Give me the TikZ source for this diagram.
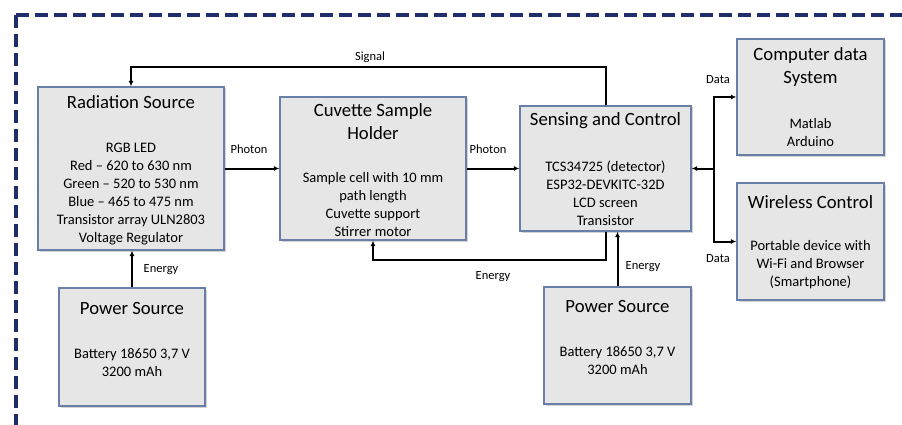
\documentclass[tikz,border=0pt]{standalone}
\usepackage{fontspec}
\setmainfont{Carlito}
\usepackage{tikz}
\usetikzlibrary{positioning,arrows.meta,shadows}

\definecolor{frameblue}{HTML}{1F2D6B}
\definecolor{boxedge}{HTML}{6A7FA8}
\definecolor{boxfill}{HTML}{E7E6E6}

\begin{document}
\begin{tikzpicture}[x=1pt, y=-1pt,
  blk/.style={draw=boxedge, fill=boxfill, line width=1.2pt, inner sep=0pt,
    drop shadow={shadow xshift=1.5pt, shadow yshift=-1.5pt, opacity=0.35}},
  ttl/.style={align=center, inner sep=0pt, font=\fontsize{18.7}{23}\selectfont},
  txt/.style={align=center, inner sep=0pt, font=\fontsize{14.5}{18}\selectfont},
  lbl/.style={inner sep=0pt, font=\fontsize{12.5}{14}\selectfont},
  wire/.style={line width=2pt, -{Latex[length=5.5pt,width=5pt]}}]
  \useasboundingbox (0,0) rectangle (902,425);
  % dashed frame
  \draw[frameblue, line width=4.5pt, dash pattern=on 13pt off 6pt] (16,15) -- (902,15);
  \draw[frameblue, line width=4.5pt, dash pattern=on 13pt off 6pt] (16,15) -- (16,425);
  % blocks
  \node[blk, minimum width=186, minimum height=163] (rad) at (131,168.5) {};
  \node[blk, minimum width=186, minimum height=143] (cuv) at (373,168.5) {};
  \node[blk, minimum width=171, minimum height=125] (sen) at (605.5,168.5) {};
  \node[blk, minimum width=147, minimum height=116] (cds) at (810.5,97) {};
  \node[blk, minimum width=147, minimum height=117] (wls) at (810.5,241.5) {};
  \node[blk, minimum width=146, minimum height=118] (pwrA) at (132,347) {};
  \node[blk, minimum width=147, minimum height=117] (pwrB) at (617.5,345.5) {};
  % block texts
  \node[ttl] (radT) at (131,102) {Radiation Source};
  \node[txt] (radB) at (131,194) {RGB LED\\Red -- 620 to 630 nm\\Green -- 520 to 530 nm\\Blue -- 465 to 475 nm\\Transistor array ULN2803\\Voltage Regulator};
  \node[ttl] (cuvT) at (373,121.5) {Cuvette Sample\\Holder};
  \node[txt] (cuvB) at (373,205) {Sample cell with 10 mm\\path length\\Cuvette support\\Stirrer motor};
  \node[ttl] (senT) at (605.5,121) {Sensing and Control};
  \node[txt] (senB) at (605.5,193) {TCS34725 (detector)\\ESP32-DEVKITC-32D\\LCD screen\\Transistor};
  \node[ttl] (cdsT) at (810.5,67.5) {Computer data\\System};
  \node[txt] (cdsB) at (810.5,133) {Matlab\\Arduino};
  \node[ttl] (wlsT) at (810.5,202) {Wireless Control};
  \node[txt] (wlsB) at (810.5,265) {Portable device with\\Wi-Fi and Browser\\(Smartphone)};
  \node[ttl] (pwrAT) at (132,308) {Power Source};
  \node[txt] (pwrAB) at (132,362.5) {Battery 18650 3,7 V\\3200 mAh};
  \node[ttl] (pwrBT) at (617.5,306.5) {Power Source};
  \node[txt] (pwrBB) at (617.5,360.5) {Battery 18650 3,7 V\\3200 mAh};
  % connectors
  \coordinate (sig) at (605.5,67);
  \coordinate (ret) at (605.5,260);
  \coordinate (dj) at (714,168.5);
  \draw[wire] (sen.north) -- (sig) -| (rad.north);
  \draw[wire] (rad) -- (cuv);
  \draw[wire] (cuv) -- (sen);
  \draw[wire] (sen.south) -- (ret) -| (cuv.south);
  \draw[wire] (pwrA.north) -- (pwrA.north |- rad.south);
  \draw[wire] (pwrB.north) -- (pwrB.north |- sen.south);
  \draw[wire] (dj) -- (sen.east);
  \draw[wire] (dj) |- (cds.west);
  \draw[wire] (dj) |- (wls.west);
  % connector labels
  \node[lbl] (sigL) at (370,57) {Signal};
  \node[lbl] (phoA) at (249,149) {Photon};
  \node[lbl] (phoB) at (488,149) {Photon};
  \node[lbl] (datA) at (718,80) {Data};
  \node[lbl] (datB) at (718,259) {Data};
  \node[lbl] (enA) at (161,270) {Energy};
  \node[lbl] (enB) at (493,277) {Energy};
  \node[lbl] (enC) at (643,267) {Energy};
\end{tikzpicture}
\end{document}
